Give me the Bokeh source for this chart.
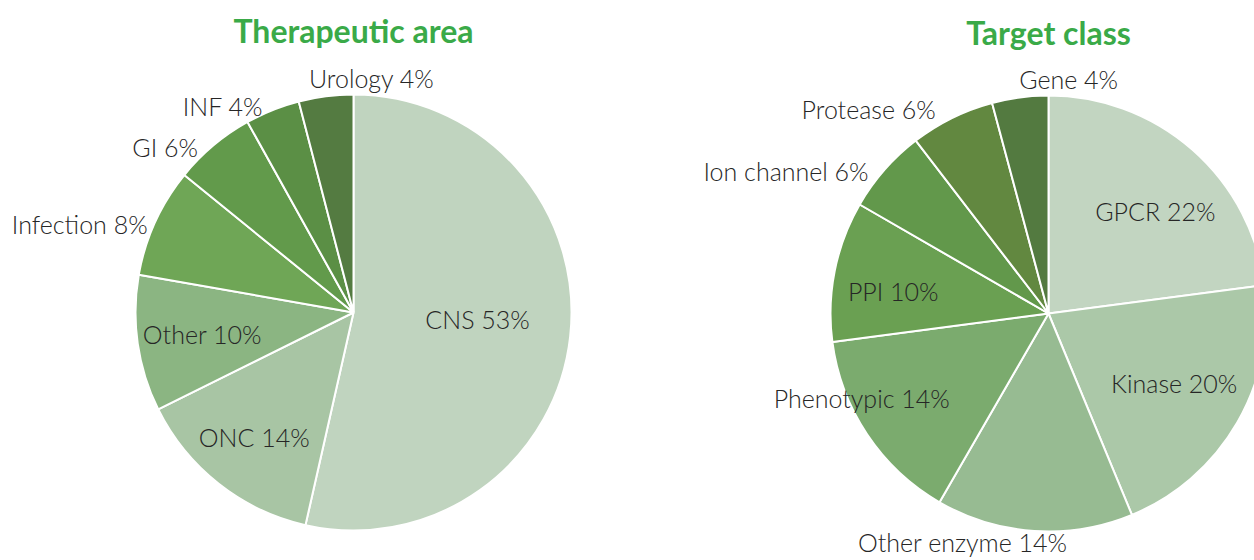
import math
from bokeh.plotting import figure
from bokeh.models import Range1d, ColumnDataSource
from bokeh.core.properties import value
from bokeh.embed import file_html
from bokeh.resources import INLINE

# ---- data ----
ta_labels = ["CNS", "ONC", "Other", "Infection", "GI", "INF", "Urology"]
ta_values = [53, 14, 10, 8, 6, 4, 4]
tc_labels = ["GPCR", "Kinase", "Other enzyme", "Phenotypic", "PPI", "Ion channel", "Protease", "Gene"]
tc_values = [22, 20, 14, 14, 10, 6, 6, 4]

# ---- styles ----
ta_colors = ["#c0d4bf", "#a8c5a4", "#8bb582", "#6fa656", "#629a4b", "#5b8f45", "#547b41"]
tc_colors = ["#c2d5c1", "#abc8a8", "#97bb92", "#7bab6e", "#6aa052", "#62984b", "#628840", "#537a40"]
# label placement: radius factor and angular shift from slice middle (degrees)
ta_lbl_r = [0.57, 0.73, 0.70, 1.32, 1.15, 1.12, 1.08]
ta_lbl_da = [3.2, -0.4, 0.0, 6.6, 8.7, 10.5, -11.7]
tc_lbl_r = [0.68, 0.66, 1.12, 0.94, 0.72, 1.37, 1.25, 1.08]
tc_lbl_da = [-4.85, 0.9, -16.8, -9.45, 2.85, 12.75, 15.05, -12.4]

W, H = 1254, 560
FONT = "Lato Light"
TFONT = "Lato"
TXT = "#262626"
GREEN = "#3aaa48"

p = figure(width=W, height=H, output_backend="svg", toolbar_location=None,
           x_range=Range1d(0, W), y_range=Range1d(0, H),
           min_border=0, min_border_left=0, min_border_right=0,
           min_border_top=0, min_border_bottom=0)
p.axis.visible = False
p.grid.visible = False
p.outline_line_color = None
p.background_fill_color = "white"
p.border_fill_color = "white"

def page_y(y):
    return H - y

def pie(cx, cy, R, labels, values, colors, lr, lda, title, ty):
    total = float(sum(values))
    starts, ends, mids = [], [], []
    cum = 0.0
    for v in values:
        a0 = 90 - cum / total * 360
        cum += v
        a1 = 90 - cum / total * 360
        starts.append(math.radians(a0))
        ends.append(math.radians(a1))
        mids.append((a0 + a1) / 2)
    src = ColumnDataSource(dict(x=[cx] * len(values), y=[page_y(cy)] * len(values),
                                s=starts, e=ends, c=colors))
    p.wedge(x="x", y="y", radius=R, start_angle="s", end_angle="e", direction="clock",
            fill_color="c", line_color="white", line_width=2, source=src)
    lx, ly, lt = [], [], []
    for lab, v, m, f, da in zip(labels, values, mids, lr, lda):
        a = math.radians(m + da)
        lx.append(cx + f * R * math.cos(a))
        ly.append(page_y(cy) + f * R * math.sin(a))
        lt.append(f"{lab} {v}%")
    p.text(x=lx, y=ly, text=lt, text_font=value(FONT), text_font_size="25px",
           text_color=TXT, text_align="center", text_baseline="middle")
    p.text(x=[cx], y=[page_y(ty)], text=[title], text_font=value(TFONT),
           text_font_size="32px", text_font_style="bold", text_color=GREEN,
           text_align="center", text_baseline="middle")

pie(353, 312, 218, ta_labels, ta_values, ta_colors, ta_lbl_r, ta_lbl_da, "Therapeutic area", 30)
pie(1048, 313, 218, tc_labels, tc_values, tc_colors, tc_lbl_r, tc_lbl_da, "Target class", 32)

open("out.html", "w").write(file_html(p, INLINE))
